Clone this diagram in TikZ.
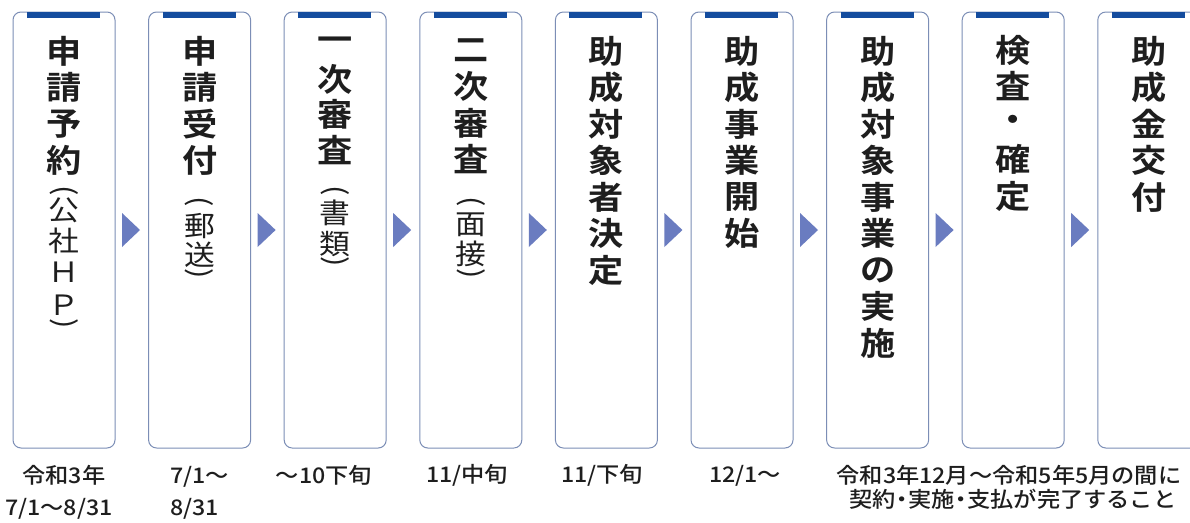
\documentclass[tikz,border=0pt]{standalone}
\usepackage{fontspec}
\usepackage{graphicx}
\usetikzlibrary{calc}
\newfontfamily\jpt{Noto Sans CJK JP}[FakeStretch=1.1, BoldFont={Noto Sans CJK JP Bold}]
\newfontfamily\jpm{Noto Sans CJK JP Medium}[FakeStretch=1.08]
\definecolor{boxline}{RGB}{124,142,182}
\definecolor{barblue}{RGB}{20,76,158}
\definecolor{arrowblue}{RGB}{106,124,192}
\definecolor{ink}{RGB}{30,30,30}
\newcommand\vtitle[5]{\foreach \c [count=\i from 0] in {#5} {\node[title] (#1-\i) at (#2,#3+#4*\i) {\c};}}
\begin{document}
\begin{tikzpicture}[x=1pt,y=-1pt,
  stepbox/.style={draw=boxline, line width=1pt, rounded corners=8pt, fill=white,
    minimum width=102pt, minimum height=436pt, inner sep=0pt},
  topbar/.style={fill=barblue, draw=none, minimum width=73pt, minimum height=6.5pt, inner sep=0pt},
  title/.style={font=\jpt\bfseries\fontsize{32}{32}\selectfont, inner sep=0pt, text=ink},
  sub/.style={font=\jpt\fontsize{28}{28}\selectfont, inner sep=0pt, text=ink},
  date/.style={font=\jpm\fontsize{21.5}{24}\selectfont, inner sep=0pt, anchor=base, text=ink},
  flow/.style={fill=arrowblue, draw=none}]
\useasboundingbox (0,0) rectangle (1190,522);
\clip (0,0) rectangle (1190,522);
\fill[white] (0,0) rectangle (1190,522);
% step boxes
\foreach \k in {1,...,9} {
  \pgfmathsetmacro\cx{64+135.6*(\k-1)}
  \node[stepbox] (s\k) at (\cx,230) {};
  \node[topbar] (bar\k) at (\cx-0.5,15.2) {};
}
% flow arrows
\foreach \k in {1,...,8} {
  \fill[flow] ($(s\k.east)+(6.5,-17)$) -- ($(s\k.east)+(24.5,0)$) -- ($(s\k.east)+(6.5,17)$) -- cycle;
}
% titles
\vtitle{t1}{64}{51}{36.5}{申,請,予,約}
\vtitle{t2}{199.6}{51}{36.5}{申,請,受,付}
\vtitle{t3}{335.2}{44}{35.3}{一,次,審,査}
\vtitle{t4}{470.8}{50}{36.5}{二,次,審,査}
\vtitle{t5}{606.4}{51}{36.5}{助,成,対,象,者,決,定}
\vtitle{t6}{742}{51}{36.5}{助,成,事,業,開,始}
\vtitle{t7}{877.6}{51}{36.5}{助,成,対,象,事,業,の,実,施}
\vtitle{t8}{1013.2}{50}{36.5}{検,査,・,確,定}
\vtitle{t9}{1148.8}{51}{36.5}{助,成,金,交,付}
% sub titles
\node[sub] (u1-0) at (64,191) {\rotatebox{-90}{(}};
\node[sub] (u1-1) at (64,210) {公};
\node[sub] (u1-2) at (64,241) {社};
\node[sub] (u1-3) at (64,272) {Ｈ};
\node[sub] (u1-4) at (64,305) {Ｐ};
\node[sub] (u1-5) at (64,324) {\rotatebox{-90}{)}};
\node[sub] (u2-0) at (199.6,202) {\rotatebox{-90}{(}};
\node[sub] (u2-1) at (199.6,226) {郵};
\node[sub] (u2-2) at (199.6,255) {送};
\node[sub] (u2-3) at (199.6,274) {\rotatebox{-90}{)}};
\node[sub] (u3-0) at (335.2,191) {\rotatebox{-90}{(}};
\node[sub] (u3-1) at (335.2,213) {書};
\node[sub] (u3-2) at (335.2,244) {類};
\node[sub] (u3-3) at (335.2,262) {\rotatebox{-90}{)}};
\node[sub] (u4-0) at (470.8,202) {\rotatebox{-90}{(}};
\node[sub] (u4-1) at (470.8,225) {面};
\node[sub] (u4-2) at (470.8,254) {接};
\node[sub] (u4-3) at (470.8,274) {\rotatebox{-90}{)}};
% dates
\node[date] (d1a) at (64,483) {令和3年};
\node[date] (d1b) at (59,515) {7/1～8/31};
\node[date, anchor=base west] (d2a) at (170,483) {7/1～};
\node[date, anchor=base west] (d2b) at (170,515) {8/31};
\node[date] (d3) at (324,483) {～10下旬};
\node[date] (d4) at (467,482) {11/中旬};
\node[date] (d5) at (602,482) {11/下旬};
\node[date] (d6) at (745,482) {12/1～};
\node[date] (d7a) at (1009,483) {令和3年12月～令和5年5月の間に};
\node[date] (d7b) at (1013,507) {契約{\kern-0.25em}・{\kern-0.25em}実施{\kern-0.25em}・{\kern-0.25em}支払が完了すること};
\end{tikzpicture}
\end{document}
